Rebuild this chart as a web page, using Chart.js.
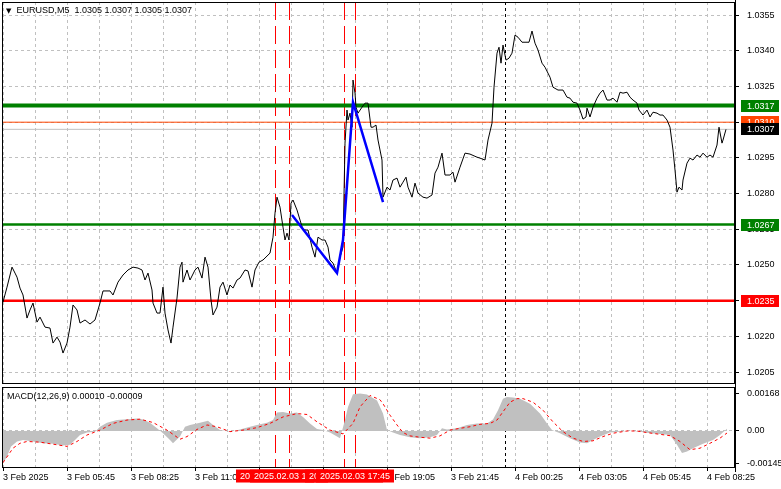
<!DOCTYPE html>
<html><head><meta charset="utf-8">
<script src="https://cdn.jsdelivr.net/npm/chart.js@4.4.1/dist/chart.umd.min.js"></script>
<style>
html,body{margin:0;padding:0;background:#fff;}
body{width:781px;height:489px;overflow:hidden;position:relative;font-family:"Liberation Sans",Arial,sans-serif;}
#c1{position:absolute;left:0;top:0;width:781px;height:386px;}
#c2{position:absolute;left:0;top:386px;width:781px;height:103px;}
.lbl{position:absolute;font-size:9px;color:#000;white-space:pre;line-height:11px;}
.tri{font-size:7px;font-family:"DejaVu Sans",sans-serif;}
</style></head><body>
<canvas id="c1" width="781" height="386"></canvas>
<canvas id="c2" width="781" height="103"></canvas>
<div class="lbl" style="left:6px;top:5px;"><span class="tri">▼</span>  EURUSD,M5  1.0305 1.0307 1.0305 1.0307</div>
<div class="lbl" style="left:7px;top:391px;">MACD(12,26,9) 0.00010 -0.00009</div>
<script>
// ---------- data ----------
const xTickLabels = ['3 Feb 2025','3 Feb 05:45','3 Feb 08:25','3 Feb 11:05','3 Feb 13:45','3 Feb 16:25','3 Feb 19:05','3 Feb 21:45','4 Feb 00:25','4 Feb 03:05','4 Feb 05:45','4 Feb 08:25'];
const priceTicks = [1.0205,1.0220,1.0235,1.0250,1.0265,1.0280,1.0295,1.0310,1.0325,1.0340,1.0355];
const macdTicks = [-0.00145, 0, 0.00168];

const priceBars = [0,2,4.5,6,7,8.5,10,12,13.5,15,17,18.5,21,23.5,25,27,28.5,30,32,33.5,35,37,38.5,41,43.5,46,48.5,50,53.5,55,57.5,60,62.5,65,67.5,69.5,71,72.5,74.5,75,77,78.5,80,81,82.5,84,85,87,88.5,89.5,90,92,93.5,96,97.5,99.5,101,102.5,104,105,107,108.5,110,112,113.5,115,117,118.5,121,122.5,124.5,126,128,130,133.5,135,136,137,138.5,140,141,142,143,144,145,147,148.5,150,152.5,154.5,156,157.5,159.5,161,162.5,163.5,165,167,168.5,170,171,172,172.5,173.5,174.5,175,176,176.5,177.5,179.5,181,182.5,184,185,186.5,187.5,189.5,190,192,193.5,195,197,198.5,200,201.5,202.5,204.5,206,207.5,210,212,214.5,216,217.5,219.5,221,223.5,225,226,228.5,231,233.5,237,238.5,241,242.5,244.5,245.5,247,248,249,250,251.5,253,254.5,256,257.5,259.5,263,264.5,266,267.5,269.5,271,273.5,275,277.5,280,282,283.5,285,287,288.5,290,291.5,292,293.5,295,297,298.5,300,302,303.5,305,307,308.5,310,312,313.5,315,317,318,320,322,323.5,325,327,328.5,330,332,333.5,335,336,337,338,339.5,340,342,343.5,345,347,348.5,350,352,353.5,355,357,358,359.5,360,361.5];
const priceValues = [1.02344,1.02407,1.02491,1.02466,1.02449,1.02403,1.02374,1.02277,1.02311,1.02340,1.02260,1.02281,1.02239,1.02235,1.02172,1.02197,1.02176,1.02130,1.02172,1.02239,1.02332,1.02311,1.02256,1.02269,1.02252,1.02269,1.02340,1.02391,1.02391,1.02374,1.02428,1.02458,1.02479,1.02491,1.02487,1.02479,1.02437,1.02466,1.02395,1.02340,1.02298,1.02298,1.02407,1.02298,1.02227,1.02172,1.02239,1.02361,1.02491,1.02512,1.02428,1.02479,1.02437,1.02479,1.02491,1.02445,1.02533,1.02491,1.02353,1.02290,1.02323,1.02407,1.02428,1.02374,1.02416,1.02403,1.02437,1.02445,1.02479,1.02475,1.02407,1.02479,1.02512,1.02521,1.02550,1.02617,1.02718,1.02785,1.02743,1.02659,1.02605,1.02634,1.02605,1.02760,1.02773,1.02731,1.02689,1.02647,1.02647,1.02575,1.02533,1.02617,1.02605,1.02605,1.02575,1.02521,1.02508,1.02466,1.02533,1.02575,1.03012,1.03151,1.03109,1.03138,1.03079,1.03277,1.03222,1.03163,1.03138,1.03163,1.03180,1.03180,1.03079,1.03079,1.03088,1.03025,1.02941,1.02785,1.02827,1.02815,1.02857,1.02865,1.02827,1.02848,1.02869,1.02827,1.02785,1.02844,1.02802,1.02785,1.02781,1.02794,1.02886,1.02911,1.02970,1.02878,1.02878,1.02890,1.02848,1.02911,1.02970,1.02966,1.02953,1.02949,1.02941,1.03025,1.03096,1.03247,1.03390,1.03415,1.03348,1.03424,1.03361,1.03369,1.03390,1.03466,1.03457,1.03436,1.03436,1.03483,1.03432,1.03403,1.03348,1.03331,1.03289,1.03247,1.03235,1.03235,1.03205,1.03201,1.03184,1.03180,1.03151,1.03113,1.03122,1.03159,1.03122,1.03163,1.03201,1.03222,1.03235,1.03193,1.03193,1.03201,1.03184,1.03226,1.03222,1.03226,1.03205,1.03193,1.03180,1.03151,1.03130,1.03151,1.03122,1.03142,1.03138,1.03130,1.03130,1.03109,1.03079,1.02983,1.02899,1.02806,1.02827,1.02815,1.02857,1.02928,1.02949,1.02941,1.02962,1.02953,1.02970,1.02953,1.02962,1.02953,1.03004,1.03079,1.03012,1.03025,1.03070];

const zigzagBars = [144.5,167,170,175,190];
const zigzagValues = [1.02710,1.02466,1.02605,1.03184,1.02764];

const levelValues = [1.0317,1.0310,1.0307,1.0267,1.0235];
const levelLabels = ['1.0317','1.0310','1.0307','1.0267','1.0235'];

const macdBars = [0,2,4,7,10,15,20,25,30,33.5,36,38.5,42,46,48.5,52,57,62,67,70,73.5,77,80,83.5,85,88.5,91,93.5,98.5,102.5,105,108.5,113.5,118.5,123.5,128.5,132,135,137,140,143.5,147,150,153.5,157,160,163.5,167,168.5,171,172.5,175,178.5,182,187,190,192,195,198.5,203.5,208.5,213.5,217,219.5,222,227,232,237,242,245,247.5,250,252,255,258.5,263.5,268.5,272,274.5,278.5,283.5,288.5,292,295,298.5,303.5,308.5,313.5,318.5,323.5,328.5,333.5,337,339.5,342,345,350,355,358.5,362];
const macdValues = [-0.00145,-0.00114,-0.00069,-0.00047,-0.00040,-0.00047,-0.00055,-0.00057,-0.00065,-0.00062,-0.00040,-0.00018,-0.00007,-0.00003,0.00019,0.00037,0.00049,0.00053,0.00056,0.00052,0.00037,0.00012,-0.00010,-0.00040,-0.00055,-0.00025,0.00019,0.00027,0.00037,0.00046,0.00027,0.00004,-0.00003,0.00007,0.00019,0.00030,0.00037,0.00049,0.00083,0.00085,0.00078,0.00083,0.00063,0.00034,0.00009,0.00004,-0.00007,-0.00025,-0.00032,0.00049,0.00108,0.00165,0.00168,0.00163,0.00137,0.00078,0.00005,-0.00007,-0.00018,-0.00028,-0.00032,-0.00028,-0.00018,0.00012,0.00007,0.00012,0.00027,0.00034,0.00034,0.00052,0.00093,0.00145,0.00152,0.00150,0.00145,0.00122,0.00078,0.00034,0.00004,-0.00010,-0.00032,-0.00052,-0.00055,-0.00040,-0.00025,-0.00007,-0.00003,0.00001,-0.00003,-0.00010,-0.00013,-0.00018,-0.00062,-0.00099,-0.00092,-0.00077,-0.00057,-0.00040,-0.00018,0.00010];

const signalBars = [0,5,8.5,12,18.5,25,32,37,42,48.5,55,62,68.5,75,82,88.5,92,97,102,107,113.5,120,127,133.5,140,147,152,157,163.5,170,175,178.5,183.5,188.5,190,193.5,197,200,203.5,208.5,213.5,218.5,223.5,228.5,233.5,238.5,243.5,247,250,253.5,257,260,265,270,275,280,285,290,295,300,305,312,317,322,328.5,333.5,338.5,343.5,348.5,353.5,358.5,362];
const signalValues = [-0.00142,-0.00077,-0.00055,-0.00047,-0.00050,-0.00059,-0.00069,-0.00047,-0.00018,0.00004,0.00034,0.00049,0.00053,0.00038,0.00004,-0.00037,-0.00025,0.00007,0.00027,0.00019,-0.00003,0.00004,0.00015,0.00034,0.00063,0.00078,0.00074,0.00041,0.00004,-0.00013,0.00034,0.00108,0.00159,0.00140,0.00122,0.00071,0.00027,-0.00007,-0.00022,-0.00028,-0.00032,-0.00022,0.00004,0.00012,0.00019,0.00030,0.00034,0.00049,0.00086,0.00129,0.00145,0.00145,0.00129,0.00093,0.00041,-0.00003,-0.00032,-0.00047,-0.00044,-0.00025,-0.00010,0.00000,0.00000,-0.00007,-0.00015,-0.00021,-0.00047,-0.00084,-0.00077,-0.00055,-0.00032,-0.00009];

const eventBars = [136,143,170.5,176];
const eventLabels = ['2025.02.03 14:25','2025.02.03 15:00','2025.02.03 17:15','2025.02.03 17:45'];
const daySeparatorBar = 251;

// ---------- styles / layout ----------
const FONT = {family:'"Liberation Sans", Arial, sans-serif', size:9};
const FONT_CSS = '9px "Liberation Sans", Arial, sans-serif';
const X_MIN = 0, X_MAX = 366;
const GRID = '#c0c0c0';
const levelStyles = [
  {line:'#008000', width:4,   box:'#008000'},
  {line:'#ff4500', width:1,   box:'#ff4500'},
  {line:'#c0c0c0', width:1,   box:'#000000'},
  {line:'#008000', width:2.5, box:'#008000'},
  {line:'#ff0000', width:2.5, box:'#ff0000'}
];
const gridBars = []; for (let b = 0; b <= 352; b += 16) gridBars.push(b);
const zip = (xs, ys) => xs.map((x, i) => ({x: x, y: ys[i]}));
const noPad = s => { s.paddingTop = 0; s.paddingBottom = 0; s.paddingLeft = 0; s.paddingRight = 0; };

function drawVLines(chart) {
  const ctx = chart.ctx, ca = chart.chartArea, xs = chart.scales.x;
  ctx.save();
  ctx.lineWidth = 1;
  ctx.strokeStyle = '#ff0000';
  ctx.setLineDash([18, 6]);
  eventBars.forEach(b => {
    const x = Math.round(xs.getPixelForValue(b)) + 0.5;
    ctx.beginPath(); ctx.moveTo(x, ca.top); ctx.lineTo(x, ca.bottom); ctx.stroke();
  });
  ctx.strokeStyle = '#000';
  ctx.setLineDash([3, 3]);
  const xd = Math.round(xs.getPixelForValue(daySeparatorBar)) + 0.5;
  ctx.beginPath(); ctx.moveTo(xd, ca.top); ctx.lineTo(xd, ca.bottom); ctx.stroke();
  ctx.restore();
}
function drawFrame(chart) {
  const ctx = chart.ctx, ca = chart.chartArea;
  ctx.save();
  ctx.strokeStyle = '#000'; ctx.lineWidth = 1; ctx.setLineDash([]);
  ctx.strokeRect(Math.round(ca.left) - 0.5, Math.round(ca.top) + 0.5, Math.round(ca.right - ca.left), Math.round(ca.bottom - ca.top) - 1);
  ctx.restore();
}

const xGridCommon = {
  color: GRID, lineWidth: 1, drawTicks: false, offset: false
};

// ---------- main price chart ----------
const levelDatasets = levelValues.map((v, i) => ({
  data: [{x: X_MIN, y: v}, {x: X_MAX, y: v}],
  borderColor: levelStyles[i].line, borderWidth: levelStyles[i].width,
  pointRadius: 0, fill: false
}));

new Chart(document.getElementById('c1'), {
  type: 'line',
  data: {
    datasets: [
      {data: zip(zigzagBars, zigzagValues), borderColor: '#0000ff', borderWidth: 2.5, pointRadius: 0, fill: false},
      {data: zip(priceBars, priceValues), borderColor: '#000000', borderWidth: 1, pointRadius: 0, fill: false},
      ...levelDatasets
    ]
  },
  options: {
    responsive: false, animation: false, events: [],
    devicePixelRatio: 1,
    layout: {padding: {left: 3, top: 2, right: 0, bottom: 2}, autoPadding: false},
    plugins: {legend: {display: false}, tooltip: {enabled: false}, title: {display: false}},
    elements: {line: {tension: 0}, point: {radius: 0}},
    scales: {
      x: {
        type: 'linear', min: X_MIN, max: X_MAX,
        afterBuildTicks: s => { s.ticks = gridBars.map(v => ({value: v})); },
        afterFit: s => { s.height = 0; noPad(s); },
        ticks: {display: false},
        grid: xGridCommon,
        border: {display: false, dash: [3, 3]}
      },
      y: {
        position: 'right', min: 1.0200, max: 1.03605,
        afterBuildTicks: s => { s.ticks = priceTicks.map(v => ({value: v})); },
        afterFit: s => { s.width = 46; noPad(s); },
        ticks: {font: FONT, color: '#000', padding: 8, callback: v => Number(v).toFixed(4)},
        grid: {color: GRID, drawTicks: true, tickLength: 4, tickColor: '#000', tickBorderDash: []},
        border: {display: false, dash: [3, 3]}
      }
    }
  },
  plugins: [{
    id: 'mainOverlay',
    beforeDatasetsDraw: chart => drawVLines(chart),
    afterDraw: chart => {
      drawFrame(chart);
      const ctx = chart.ctx, ys = chart.scales.y, ca = chart.chartArea;
      ctx.save();
      ctx.strokeStyle = '#000'; ctx.lineWidth = 1;
      ctx.beginPath(); ctx.moveTo(Math.round(ca.right) + 0.5, 0); ctx.lineTo(Math.round(ca.right) + 0.5, chart.height); ctx.stroke();
      ctx.font = FONT_CSS; ctx.textBaseline = 'middle'; ctx.textAlign = 'left';
      levelValues.forEach((v, i) => {
        const y = Math.round(ys.getPixelForValue(v));
        ctx.fillStyle = levelStyles[i].box;
        ctx.fillRect(ca.right + 6, y - 6, 38, 12);
        ctx.fillStyle = '#fff';
        ctx.fillText(levelLabels[i], ca.right + 12, y + 0.5);
      });
      ctx.restore();
    }
  }]
});

// ---------- MACD chart ----------
new Chart(document.getElementById('c2'), {
  type: 'line',
  data: {
    datasets: [
      {data: zip(signalBars, signalValues), borderColor: '#ff0000', borderWidth: 1, borderDash: [3, 3], pointRadius: 0, fill: false},
      {data: zip(macdBars, macdValues), borderColor: '#c0c0c0', borderWidth: 0, backgroundColor: '#c0c0c0', pointRadius: 0, fill: 'origin'}
    ]
  },
  options: {
    responsive: false, animation: false, events: [],
    devicePixelRatio: 1,
    layout: {padding: {left: 3, top: 1, right: 0, bottom: 0}, autoPadding: false},
    plugins: {legend: {display: false}, tooltip: {enabled: false}, filler: {propagate: false}},
    elements: {line: {tension: 0}, point: {radius: 0}},
    scales: {
      x: {
        type: 'linear', min: X_MIN, max: X_MAX,
        afterBuildTicks: s => { s.ticks = gridBars.map(v => ({value: v})); },
        afterFit: s => { s.height = 21; noPad(s); },
        ticks: {
          font: FONT, color: '#000', align: 'start', autoSkip: false, maxRotation: 0, minRotation: 0, padding: 1,
          callback: v => (v % 32 === 0 ? xTickLabels[v / 32] : '')
        },
        grid: {color: GRID, drawTicks: true, tickLength: 3, offset: false,
               tickColor: c => (c.tick && c.tick.value % 32 === 0 ? '#000' : 'rgba(0,0,0,0)'), tickBorderDash: []},
        border: {display: false, dash: [3, 3]}
      },
      y: {
        position: 'right', min: -0.001658, max: 0.001971,
        afterBuildTicks: s => { s.ticks = macdTicks.map(v => ({value: v})); },
        afterFit: s => { s.width = 46; noPad(s); },
        ticks: {font: FONT, color: '#000', padding: 8, callback: v => (v === 0 ? '0.00' : Number(v).toFixed(5))},
        grid: {color: c => (c.tick && c.tick.value === 0 ? GRID : 'rgba(0,0,0,0)'), drawTicks: true, tickLength: 4, tickColor: '#000', tickBorderDash: []},
        border: {display: false, dash: [3, 3]}
      }
    }
  },
  plugins: [{
    id: 'macdOverlay',
    beforeDatasetsDraw: chart => drawVLines(chart),
    afterDraw: chart => {
      drawFrame(chart);
      const ctx = chart.ctx, xs = chart.scales.x, ca = chart.chartArea;
      ctx.save();
      ctx.strokeStyle = '#000'; ctx.lineWidth = 1;
      ctx.beginPath(); ctx.moveTo(Math.round(ca.right) + 0.5, 0); ctx.lineTo(Math.round(ca.right) + 0.5, ca.bottom + 4); ctx.stroke();
      ctx.font = FONT_CSS; ctx.textBaseline = 'middle'; ctx.textAlign = 'center';
      eventBars.forEach((b, i) => {
        const x = Math.round(xs.getPixelForValue(b));
        ctx.fillStyle = '#ff0000';
        ctx.fillRect(x - 39, ca.bottom + 1.5, 78, 13);
        ctx.fillStyle = '#fff';
        ctx.fillText(eventLabels[i], x, ca.bottom + 8.5);
      });
      ctx.restore();
    }
  }]
});
</script>
</body></html>
